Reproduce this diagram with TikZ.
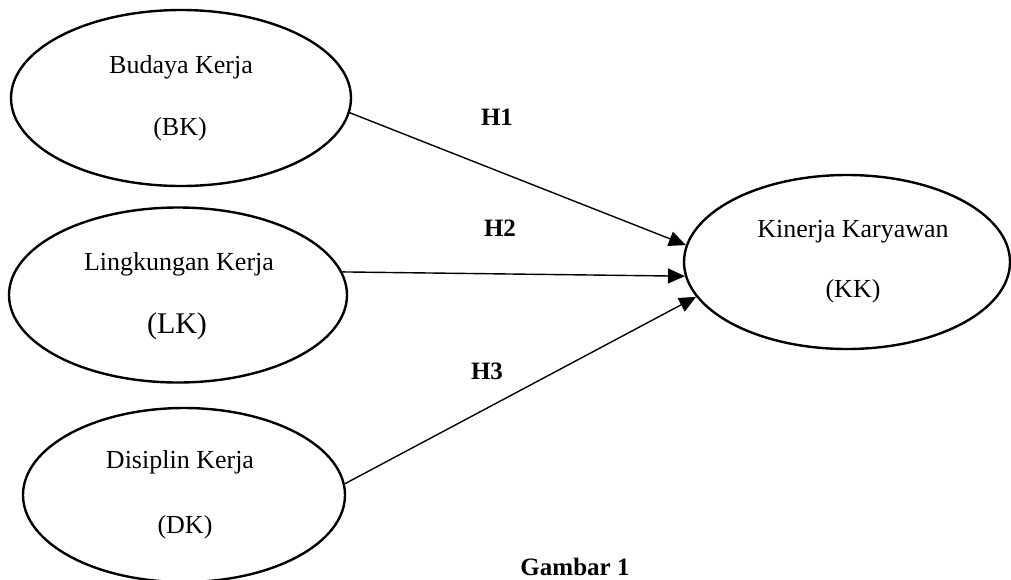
\documentclass[tikz,border=0pt]{standalone}
\usepackage{fontspec}
\setmainfont{Liberation Serif}
\usetikzlibrary{shapes.geometric,arrows.meta}
\begin{document}
\begin{tikzpicture}[x=0.5pt,y=-0.5pt,
  var/.style={draw, ellipse, line width=1.2pt, inner sep=0pt},
  lbl/.style={font=\fontsize{13}{15}\selectfont, anchor=base, inner sep=0pt},
  biglbl/.style={font=\fontsize{15}{18}\selectfont, anchor=base, inner sep=0pt},
  hyp/.style={font=\fontsize{12.5}{15}\selectfont\bfseries, anchor=base, inner sep=0pt},
  conn/.style={line width=0.7pt, -{Triangle[length=8.5pt,width=7.5pt]}}]
\useasboundingbox (0,0) rectangle (1011,579);
% variables
\node[var, minimum width=170pt, minimum height=88pt] (BK) at (181,98) {};
\node[var, minimum width=169pt, minimum height=87.5pt] (LK) at (178,295) {};
\node[var, minimum width=161pt, minimum height=87pt] (DK) at (184,495) {};
\node[var, minimum width=163pt, minimum height=87pt] (KK) at (847,262) {};
% texts
\node[lbl] (bk1) at (181,73) {Budaya Kerja};
\node[lbl] (bk2) at (180,135) {(BK)};
\node[lbl] (lk1) at (179,270) {Lingkungan Kerja};
\node[biglbl] (lk2) at (177,333) {(LK)};
\node[lbl] (dk1) at (180,468) {Disiplin Kerja};
\node[lbl] (dk2) at (185,533) {(DK)};
\node[lbl] (kk1) at (853,237) {Kinerja Karyawan};
\node[lbl] (kk2) at (853,297) {(KK)};
% connectors
\draw[conn] (BK.-5.5) -- (KK.174);
\draw[conn] (LK.8.1) -- (KK.185.6);
\draw[conn] (DK.4.3) -- (KK.193.2);
% hypothesis labels
\node[hyp] (h1) at (497,125) {H1};
\node[hyp] (h2) at (500,236) {H2};
\node[hyp] (h3) at (487,379) {H3};
\node[hyp] (cap) at (575,575) {Gambar 1};
\end{tikzpicture}
\end{document}
